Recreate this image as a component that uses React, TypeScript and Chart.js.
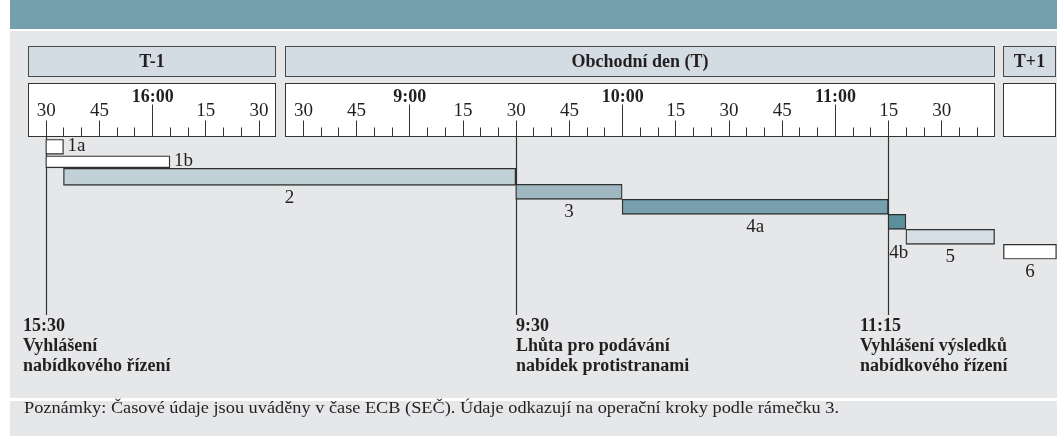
import React, { useEffect, useRef } from 'react';
import { Chart, registerables } from 'chart.js';

Chart.register(...registerables);

// ---------------- data ----------------
const dayKeys = ['T-1', 'T', 'T+1'];
const dayTitles = ['T-1', 'Obchodní den (T)', 'T+1'];
const dayWindowFrom = ['15:25', '8:25', ''];
const dayWindowTo = ['16:35', '11:45', ''];

const stepLabels = ['1a', '1b', '2', '3', '4a', '4b', '5', '6'];
const stepStartDay = ['T-1', 'T-1', 'T-1', 'T', 'T', 'T', 'T', 'T+1'];
const stepStartTime = ['15:30', '15:30', '15:35', '9:30', '10:00', '11:15', '11:20', ''];
const stepEndDay = ['T-1', 'T-1', 'T', 'T', 'T', 'T', 'T', 'T+1'];
const stepEndTime = ['15:35', '16:05', '9:30', '10:00', '11:15', '11:20', '11:45', ''];

const rulerLabelTimesT1 = ['15:30', '15:45', '16:00', '16:15', '16:30'];
const rulerLabelsT1 = ['30', '45', '16:00', '15', '30'];
const rulerLabelTimesT = ['8:30', '8:45', '9:00', '9:15', '9:30', '9:45', '10:00', '10:15', '10:30', '10:45', '11:00', '11:15', '11:30'];
const rulerLabelsT = ['30', '45', '9:00', '15', '30', '45', '10:00', '15', '30', '45', '11:00', '15', '30'];

const milestoneDay = ['T-1', 'T', 'T'];
const milestoneTime = ['15:30', '9:30', '11:15'];
const milestoneLine1 = ['15:30', '9:30', '11:15'];
const milestoneLine2 = ['Vyhlášení', 'Lhůta pro podávání', 'Vyhlášení výsledků'];
const milestoneLine3 = ['nabídkového řízení', 'nabídek protistranami', 'nabídkového řízení'];

const footnote = 'Poznámky: Časové údaje jsou uváděny v čase ECB (SEČ). Údaje odkazují na operační kroky podle rámečku 3.';

// ---------------- layout / style ----------------
const W = 1057;
const H = 436;
const FONT = "'Liberation Serif', 'Times New Roman', serif";
const TEXT = '#231f20';
const TEAL = '#74a0ae';
const PANEL = '#e5e7e9';
const HEADER_FILL = '#d3dce2';
const LINE = '#333333';
const DAY_GAP = 2.5;
const X_MIN = -7.9;
const X_MAX = 290.1;
const STEP_FILL = ['#ffffff', '#ffffff', '#c2d1d8', '#9fb7c0', '#76a0ad', '#5b8f9c', '#d5dee4', '#ffffff'];
const STEP_THICK = [15, 12, 17, 15, 15, 15, 15, 15];
const STEP_LABEL_POS = ['right', 'right', 'below', 'below', 'below', 'belowStart', 'below', 'below'];
const MILESTONE_DX = [-23, 0, -28];
const FOOTNOTE_WIDTH = 815;

const toMin = (t: string) => {
  const [h, m] = t.split(':').map(Number);
  return h * 60 + m;
};
const dayStart = (i: number) => {
  let s = 0;
  for (let k = 0; k < i; k++) s += toMin(dayWindowTo[k]) - toMin(dayWindowFrom[k]) + DAY_GAP;
  return s;
};
const dayEnd = (i: number) =>
  dayWindowTo[i] ? dayStart(i) + toMin(dayWindowTo[i]) - toMin(dayWindowFrom[i]) : X_MAX - 0.15;
const axisValue = (day: string, time: string, edge: 'start' | 'end') => {
  const i = dayKeys.indexOf(day);
  if (!time) return edge === 'start' ? dayStart(i) : dayEnd(i);
  return dayStart(i) + toMin(time) - toMin(dayWindowFrom[i]);
};

const crisp = (v: number) => Math.round(v) + 0.5;

const framePlugin = {
  id: 'frame',
  beforeDraw(chart: any) {
    const ctx = chart.ctx;
    const xs = chart.scales.x;
    ctx.save();
    ctx.fillStyle = '#ffffff';
    ctx.fillRect(0, 0, W, H);
    ctx.fillStyle = TEAL;
    ctx.fillRect(10, 0, W - 10, 29);
    ctx.fillStyle = PANEL;
    ctx.fillRect(10, 31, W - 10, 367);
    ctx.fillRect(10, 401, W - 10, H - 401);

    dayKeys.forEach((d, i) => {
      const x0 = crisp(xs.getPixelForValue(dayStart(i)));
      const x1 = crisp(xs.getPixelForValue(dayEnd(i))) - 1;
      // header box
      ctx.fillStyle = HEADER_FILL;
      ctx.fillRect(x0, 46.5, x1 - x0, 30);
      ctx.strokeStyle = '#4a4a4a';
      ctx.lineWidth = 1;
      ctx.strokeRect(x0, 46.5, x1 - x0, 30);
      ctx.fillStyle = TEXT;
      ctx.font = `bold 18px ${FONT}`;
      ctx.textAlign = 'center';
      ctx.textBaseline = 'middle';
      ctx.fillText(dayTitles[i], (x0 + x1) / 2, 62);
      // ruler box
      ctx.fillStyle = '#ffffff';
      ctx.fillRect(x0, 83.5, x1 - x0, 53);
      ctx.strokeStyle = LINE;
      ctx.strokeRect(x0, 83.5, x1 - x0, 53);
      if (!dayWindowFrom[i]) return;
      const from = toMin(dayWindowFrom[i]);
      const to = toMin(dayWindowTo[i]);
      ctx.beginPath();
      for (let m = from + 5; m < to; m += 5) {
        const x = crisp(xs.getPixelForValue(dayStart(i) + m - from));
        const len = m % 60 === 0 ? 32 : m % 15 === 0 ? 16 : 9;
        ctx.moveTo(x, 136.5);
        ctx.lineTo(x, 136.5 - len);
      }
      ctx.stroke();
      const times = i === 0 ? rulerLabelTimesT1 : rulerLabelTimesT;
      const labels = i === 0 ? rulerLabelsT1 : rulerLabelsT;
      times.forEach((t, k) => {
        const x = xs.getPixelForValue(axisValue(d, t, 'start'));
        const hour = labels[k].includes(':');
        ctx.fillStyle = TEXT;
        ctx.font = hour ? `bold 18px ${FONT}` : `19px ${FONT}`;
        ctx.fillText(labels[k], x + 0.5, hour ? 97 : 111.5);
      });
    });
    ctx.restore();
  },
  beforeDatasetsDraw(chart: any) {
    const ctx = chart.ctx;
    const xs = chart.scales.x;
    ctx.save();
    ctx.strokeStyle = LINE;
    ctx.lineWidth = 1.2;
    milestoneTime.forEach((t, i) => {
      const x = crisp(xs.getPixelForValue(axisValue(milestoneDay[i], t, 'start')));
      ctx.beginPath();
      ctx.moveTo(x, 136.5);
      ctx.lineTo(x, 315);
      ctx.stroke();
    });
    ctx.restore();
  },
  afterDatasetsDraw(chart: any) {
    const ctx = chart.ctx;
    const xs = chart.scales.x;
    ctx.save();
    ctx.fillStyle = TEXT;
    ctx.font = `19px ${FONT}`;
    stepLabels.forEach((lab, i) => {
      const el = chart.getDatasetMeta(i).data[i];
      if (!el) return;
      const p = el.getProps(['x', 'y', 'base', 'height'], true);
      const left = Math.min(p.x, p.base);
      const right = Math.max(p.x, p.base);
      const bottom = p.y + p.height / 2;
      const pos = STEP_LABEL_POS[i];
      ctx.textBaseline = 'middle';
      if (pos === 'right') {
        ctx.textAlign = 'left';
        ctx.fillText(lab, right + 4, p.y - 1);
      } else if (pos === 'belowStart') {
        ctx.textAlign = 'left';
        ctx.fillText(lab, left + 1, bottom + 24);
      } else {
        ctx.textAlign = 'center';
        ctx.fillText(lab, (left + right) / 2, bottom + 13);
      }
    });
    // milestones
    ctx.font = `bold 18px ${FONT}`;
    ctx.textAlign = 'left';
    ctx.textBaseline = 'middle';
    milestoneTime.forEach((t, i) => {
      const x = crisp(xs.getPixelForValue(axisValue(milestoneDay[i], t, 'start'))) - 0.5 + MILESTONE_DX[i];
      ctx.fillText(milestoneLine1[i], x, 326);
      ctx.fillText(milestoneLine2[i], x, 346.5);
      ctx.fillText(milestoneLine3[i], x, 366.5);
    });
    // footnote (the source face is wider than Liberation Serif: stretch to its measured width)
    ctx.font = `16px ${FONT}`;
    const w = ctx.measureText(footnote).width;
    ctx.translate(24, 409);
    ctx.scale(FOOTNOTE_WIDTH / w, 1);
    ctx.fillText(footnote, 0, 0);
    ctx.restore();
  },
};

export default function App() {
  const ref = useRef<HTMLCanvasElement | null>(null);
  useEffect(() => {
    if (!ref.current) return;
    const chart = new Chart(ref.current, {
      type: 'bar',
      data: {
        labels: stepLabels,
        datasets: stepLabels.map((lab, i) => ({
          label: lab,
          data: stepLabels.map((_, j) =>
            j === i
              ? [
                  axisValue(stepStartDay[i], stepStartTime[i], 'start'),
                  axisValue(stepEndDay[i], stepEndTime[i], 'end'),
                ]
              : null
          ),
          backgroundColor: STEP_FILL[i],
          borderColor: '#2f2f2f',
          borderWidth: 1.3,
          borderSkipped: false,
          barThickness: STEP_THICK[i],
          grouped: false,
        })) as any,
      },
      options: {
        responsive: false,
        animation: false,
        indexAxis: 'y',
        layout: { padding: { top: 139.3, bottom: H - 139.3 - 120, left: 0, right: 0 } },
        scales: {
          x: { type: 'linear', min: X_MIN, max: X_MAX, display: false },
          y: { type: 'category', display: false, offset: true },
        },
        plugins: { legend: { display: false }, tooltip: { enabled: false } },
      } as any,
      plugins: [framePlugin],
    });
    return () => chart.destroy();
  }, []);
  return (
    <div style={{ position: 'fixed', left: 0, top: 0, width: W, height: H }}>
      <canvas ref={ref} width={W} height={H} style={{ width: W, height: H, display: 'block' }} />
    </div>
  );
}
